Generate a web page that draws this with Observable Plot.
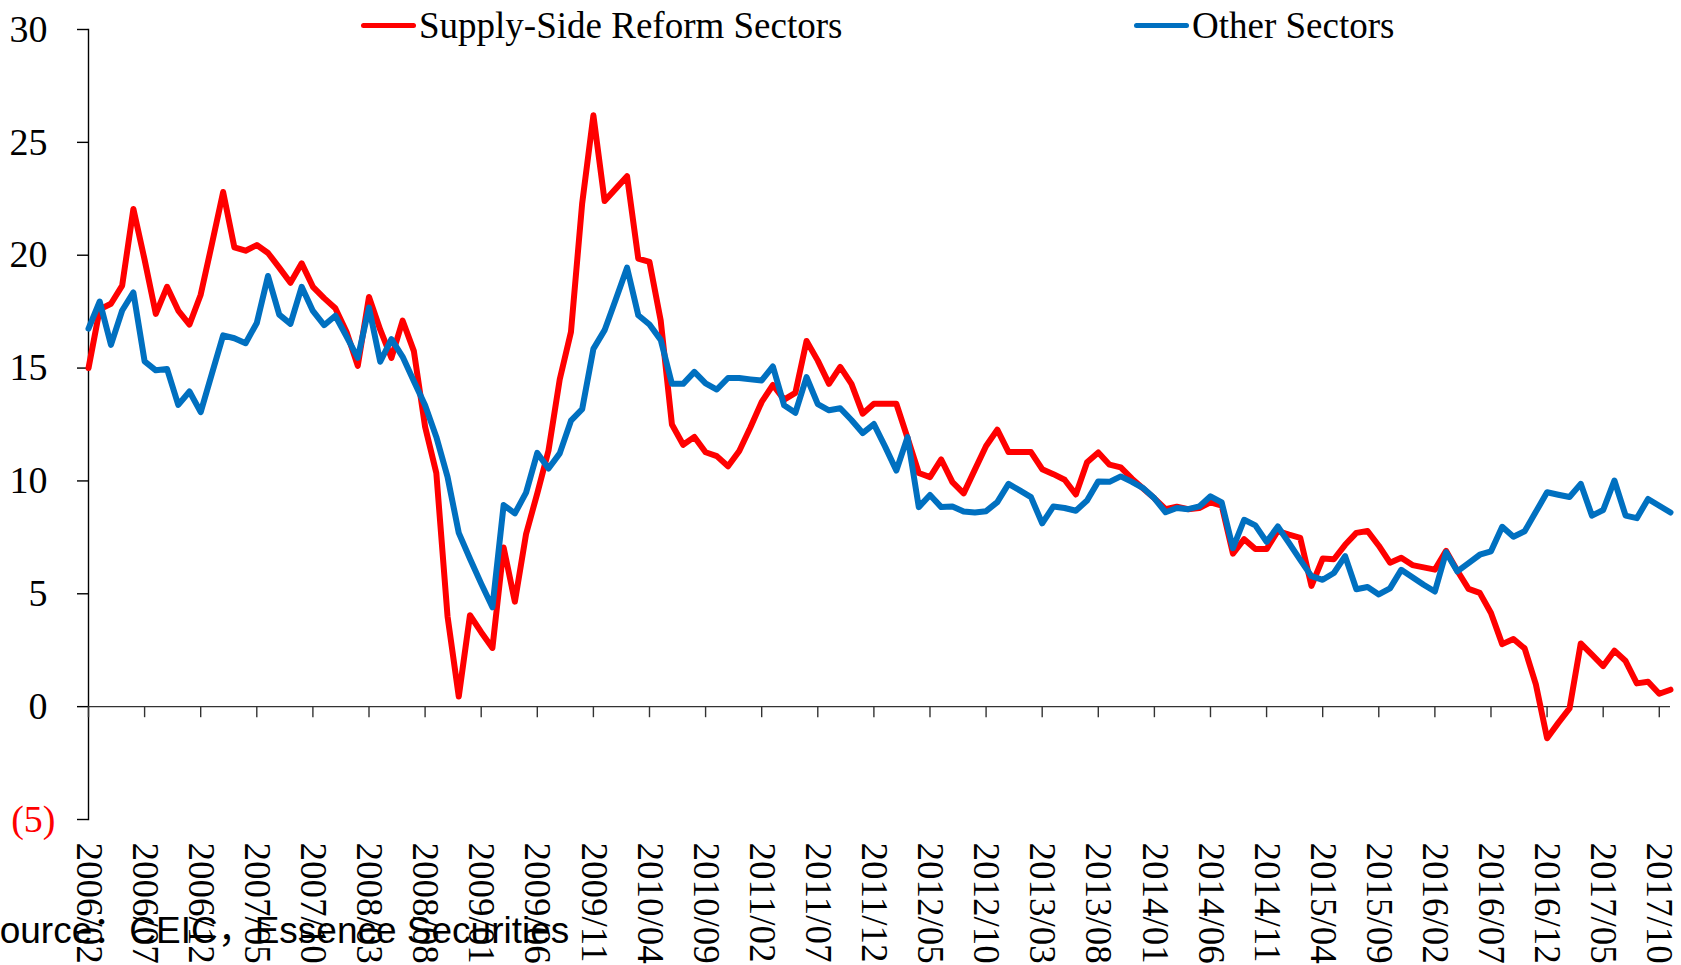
<!DOCTYPE html>
<html>
<head>
<meta charset="utf-8">
<script src="https://cdn.jsdelivr.net/npm/d3@7"></script>
<script src="https://cdn.jsdelivr.net/npm/@observablehq/plot@0.6"></script>
<style>
  html, body { margin: 0; padding: 0; background: #fff; }
  #wrap { position: relative; width: 1681px; height: 965px; overflow: hidden; background: #fff; }
  #chart { position: absolute; left: 0; top: 0; }
  .legend-item { position: absolute; top: 5px; display: flex; align-items: center; height: 41px;
    font-family: "Liberation Serif", "Times New Roman", serif; font-size: 37px; line-height: 41px; color: #000; white-space: nowrap; }
  .swatch { width: 55px; height: 5px; border-radius: 3px; margin-right: 3px; }
  #source { position: absolute; left: -25px; top: 912px; white-space: nowrap; color: #000;
    font-family: "Liberation Sans", Arial, "Noto Sans CJK SC", sans-serif; font-size: 37px; line-height: 37px; }
</style>
</head>
<body>
<div id="wrap">
  <div id="chart"></div>
  <div id="legend"></div>
  <div id="source">Source：CEIC，Essence Securities</div>
</div>
<script>
// ---- data ----
const seriesNames = ["Supply-Side Reform Sectors", "Other Sectors"];
const seriesColors = ["#FF0000", "#0070C0"];
const startYear = 2006;
const startMonth = 2;

const supplySide = [
  15.0,17.6,17.85,18.65,22.05,19.8,17.4,18.6,17.55,16.93,
  18.25,20.5,22.8,20.35,20.2,20.45,20.1,19.45,18.78,19.64,
  18.6,18.1,17.65,16.6,15.1,18.15,16.7,15.45,17.1,15.75,
  12.4,10.35,4.0,0.45,4.05,3.3,2.6,7.05,4.65,7.65,
  9.45,11.35,14.5,16.6,22.3,26.2,22.4,22.95,23.5,19.85,
  19.7,17.1,12.5,11.6,11.95,11.27,11.1,10.65,11.33,12.38,
  13.5,14.25,13.6,13.9,16.2,15.33,14.3,15.05,14.3,12.98,
  13.42,13.42,13.42,11.9,10.35,10.17,10.95,9.95,9.45,10.5,
  11.55,12.27,11.28,11.28,11.28,10.52,10.3,10.05,9.4,10.83,
  11.26,10.72,10.6,10.1,9.66,9.23,8.75,8.86,8.75,8.8,
  9.05,8.91,6.78,7.42,6.98,6.98,7.78,7.62,7.48,5.35,
  6.56,6.53,7.17,7.7,7.78,7.13,6.38,6.6,6.27,6.17,
  6.07,6.9,6.02,5.22,5.04,4.15,2.77,3.0,2.58,0.99,
  -1.4,-0.72,-0.08,2.8,2.3,1.8,2.48,2.02,1.03,1.1,
  0.57,0.75
];

const otherSectors = [
  16.75,17.95,16.03,17.55,18.35,15.3,14.9,14.96,13.37,13.96,
  13.05,14.75,16.45,16.32,16.1,17.0,19.08,17.37,16.96,18.6,
  17.53,16.9,17.32,16.4,15.45,17.68,15.28,16.28,15.5,14.42,
  13.35,11.95,10.18,7.7,6.55,5.45,4.4,8.93,8.56,9.48,
  11.24,10.55,11.22,12.67,13.18,15.85,16.68,18.05,19.45,17.34,
  16.93,16.25,14.3,14.3,14.83,14.32,14.05,14.56,14.56,14.5,
  14.45,15.07,13.35,13.02,14.6,13.4,13.13,13.22,12.7,12.12,
  12.52,11.52,10.46,11.94,8.84,9.38,8.84,8.87,8.65,8.6,
  8.66,9.06,9.87,9.58,9.28,8.12,8.87,8.8,8.68,9.13,
  9.98,9.96,10.2,9.96,9.68,9.23,8.61,8.8,8.75,8.87,
  9.32,9.05,7.02,8.28,8.03,7.3,7.98,7.25,6.5,5.78,
  5.62,5.92,6.67,5.2,5.3,4.97,5.24,6.06,5.73,5.4,
  5.1,6.84,5.99,6.36,6.73,6.88,7.97,7.53,7.77,8.63,
  9.5,9.39,9.29,9.87,8.46,8.71,10.02,8.46,8.35,9.2,
  8.9,8.6
];

const xTickLabels = [
  "2006/02","2006/07","2006/12","2007/05","2007/10","2008/03","2008/08","2009/01",
  "2009/06","2009/11","2010/04","2010/09","2011/02","2011/07","2011/12","2012/05",
  "2012/10","2013/03","2013/08","2014/01","2014/06","2014/11","2015/04","2015/09",
  "2016/02","2016/07","2016/12","2017/05","2017/10"
];
const yTicksPositive = [0, 5, 10, 15, 20, 25, 30];
const yTicksNegative = [-5];
const yDomain = [-5, 30];

// ---- month categories ----
const months = supplySide.map((_, i) => {
  const t = startMonth - 1 + i;
  return `${startYear + Math.floor(t / 12)}/${String((t % 12) + 1).padStart(2, "0")}`;
});

const rows = [
  ...months.map((m, i) => ({ month: m, series: seriesNames[0], value: supplySide[i] })),
  ...months.map((m, i) => ({ month: m, series: seriesNames[1], value: otherSectors[i] }))
];

const serif = "'Liberation Serif', 'Times New Roman', serif";

const chart = Plot.plot({
  width: 1681,
  height: 965,
  marginLeft: 88,
  marginRight: 11,
  marginTop: 29,
  marginBottom: 146,
  style: { fontFamily: serif, fontSize: "37px", background: "transparent", color: "#000", overflow: "visible" },
  x: { type: "point", domain: months, padding: 0, axis: null },
  y: { domain: yDomain, axis: null },
  color: { domain: seriesNames, range: seriesColors },
  marks: [
    // y axis line
    Plot.frame({ anchor: "left", stroke: "#000", strokeWidth: 1.4 }),
    // y ticks and labels (positive)
    Plot.axisY(yTicksPositive, { tickSize: 11, tickPadding: 30, stroke: "#000", strokeWidth: 1.4,
      fill: "#000", fontSize: 38, fontFamily: serif, label: null }),
    // negative label in red, parentheses format
    Plot.axisY(yTicksNegative, { tickSize: 11, tickPadding: 22, stroke: "#000", strokeWidth: 1.4,
      fill: "#FF0000", fontSize: 38, fontFamily: serif, label: null,
      tickFormat: d => `(${Math.abs(d)})` }),
    // x axis line at zero
    Plot.ruleY([0], { stroke: "#333", strokeWidth: 1.4 }),
    // x tick marks hanging below zero
    Plot.ruleX(xTickLabels, { x: d => d, y1: 0, y2: -0.49, stroke: "#333", strokeWidth: 1.4 }),
    // x tick labels at bottom, rotated
    Plot.axisX(xTickLabels, { anchor: "bottom", tickSize: 0, tickPadding: 23, tickRotate: 90,
      textAnchor: "start", lineAnchor: "middle", fontSize: 37, fontFamily: serif, fill: "#000", label: null }),
    // series lines
    Plot.line(rows.filter(d => d.series === seriesNames[0]), {
      x: "month", y: "value", stroke: "series", strokeWidth: 6, strokeLinejoin: "round", strokeLinecap: "round" }),
    Plot.line(rows.filter(d => d.series === seriesNames[1]), {
      x: "month", y: "value", stroke: "series", strokeWidth: 6, strokeLinejoin: "round", strokeLinecap: "round" })
  ]
});
document.getElementById("chart").appendChild(chart);

// ---- legend (HTML, above the plot area) ----
const legendLeft = [361, 1134];
const legend = document.getElementById("legend");
seriesNames.forEach((name, i) => {
  const item = document.createElement("div");
  item.className = "legend-item";
  item.style.left = legendLeft[i] + "px";
  const sw = document.createElement("span");
  sw.className = "swatch";
  sw.style.background = seriesColors[i];
  const tx = document.createElement("span");
  tx.textContent = name;
  item.appendChild(sw);
  item.appendChild(tx);
  legend.appendChild(item);
});
</script>
</body>
</html>
